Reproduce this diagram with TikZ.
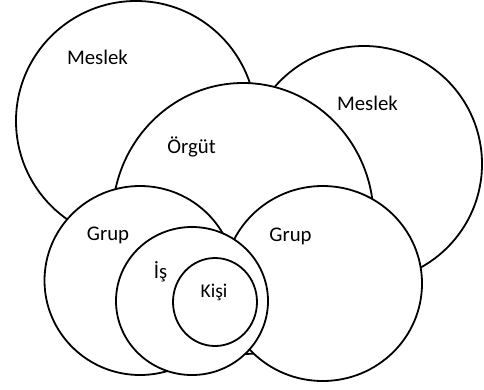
\documentclass[tikz,border=0pt]{standalone}
\usepackage{fontspec}
\setmainfont{Carlito}
\begin{document}
\begin{tikzpicture}[x=1pt,y=-1pt,
  disc/.style={draw=black,fill=white,line width=1.8pt},
  lbl/.style={font=\fontsize{20.8}{25}\selectfont,inner sep=0pt,anchor=base},
  smalllbl/.style={font=\fontsize{19.5}{23}\selectfont,inner sep=0pt,anchor=base}]
\useasboundingbox[fill=white] (0,0) rectangle (484,389);
% back to front
\draw[disc] (136,121) circle [radius=120];
\draw[disc] (364,164) circle [radius=118];
\draw[disc] (243,218.5) ellipse [x radius=130.6, y radius=135.5];
\draw[disc] (322.7,283.5) ellipse [x radius=99.3, y radius=97.5];
\draw[disc] (140,280.5) ellipse [x radius=95.5, y radius=94.5];
\draw[disc] (192,301) ellipse [x radius=76, y radius=74];
\draw[disc] (215,302) ellipse [x radius=42, y radius=44];
% labels
\node[lbl] (meslek1) at (97.5,64) {Meslek};
\node[lbl] (meslek2) at (367.5,110) {Meslek};
\node[lbl] (orgut) at (191.5,153) {Örgüt};
\node[lbl] (grup1) at (108,240) {Grup};
\node[lbl] (grup2) at (290.5,241) {Grup};
\node[lbl] (is) at (160.5,278) {İş};
\node[smalllbl] (kisi) at (214,297) {Kişi};
\end{tikzpicture}
\end{document}
